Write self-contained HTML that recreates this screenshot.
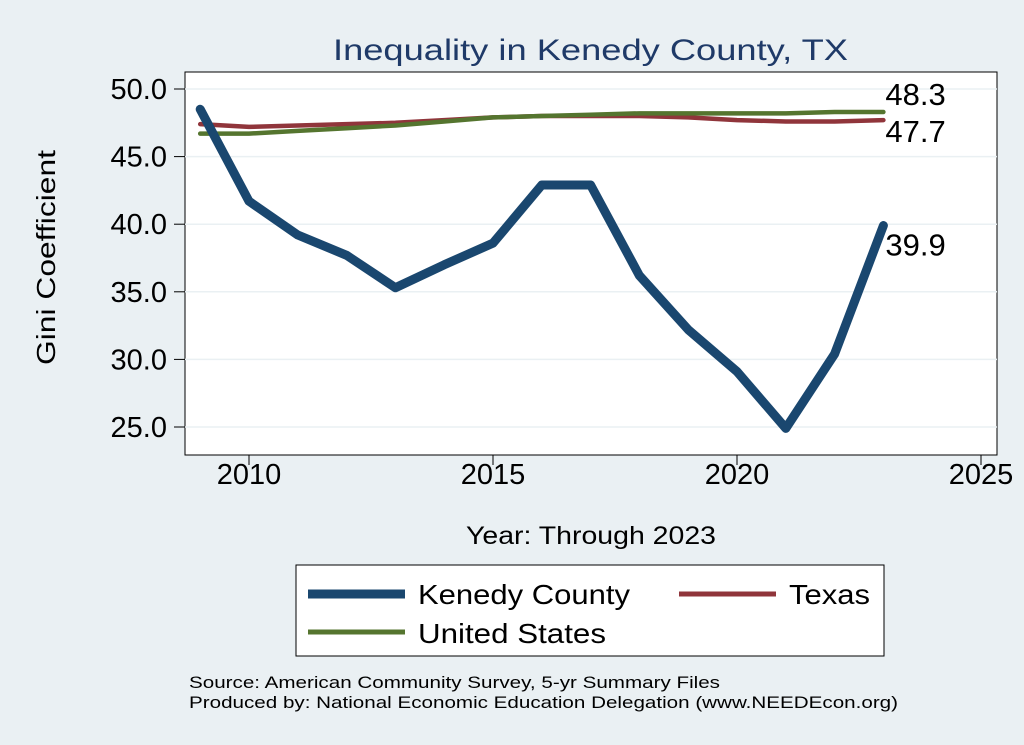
<!DOCTYPE html>
<html><head><meta charset="utf-8"><style>
body{margin:0;background:#eaf0f3;}
svg{display:block;font-family:"Liberation Sans",sans-serif;}
</style></head><body>
<svg width="1024" height="745">
<rect x="0" y="0" width="1024" height="745" fill="#eaf0f3"/>
<rect x="185" y="72" width="812" height="383" fill="#fff" stroke="#000" stroke-width="1"/>
<text x="333" y="60" font-size="30" fill="#1f3a68" textLength="515" lengthAdjust="spacingAndGlyphs">Inequality in Kenedy County, TX</text>
<text transform="translate(55,365) rotate(-90)" font-size="26" textLength="215" lengthAdjust="spacingAndGlyphs">Gini Coefficient</text>
<text x="466" y="544" font-size="25" textLength="250" lengthAdjust="spacingAndGlyphs">Year: Through 2023</text>
<g id="axes"></g>
<g id="series"></g>
<rect x="296" y="565" width="588" height="91" fill="#fff" stroke="#000" stroke-width="1"/>
<line x1="308" y1="594" x2="405" y2="594" stroke="#1a476f" stroke-width="9"/>
<text x="418" y="604" font-size="28" textLength="212" lengthAdjust="spacingAndGlyphs">Kenedy County</text>
<line x1="679" y1="594" x2="776" y2="594" stroke="#90353b" stroke-width="5"/>
<text x="789" y="604" font-size="28" textLength="81" lengthAdjust="spacingAndGlyphs">Texas</text>
<line x1="308" y1="632" x2="405" y2="632" stroke="#55752f" stroke-width="5"/>
<text x="418" y="643" font-size="28" textLength="188" lengthAdjust="spacingAndGlyphs">United States</text>
<text x="189" y="688" font-size="17" textLength="531" lengthAdjust="spacingAndGlyphs">Source: American Community Survey, 5-yr Summary Files</text>
<text x="189" y="708" font-size="17" textLength="709" lengthAdjust="spacingAndGlyphs">Produced by: National Economic Education Delegation (www.NEEDEcon.org)</text>
</svg>
<script>
const years=[2009,2010,2011,2012,2013,2014,2015,2016,2017,2018,2019,2020,2021,2022,2023];
const kenedy=[48.5,41.7,39.2,37.7,35.3,37.0,38.6,42.9,42.9,36.2,32.2,29.1,24.9,30.4,39.9];
const texas=[47.4,47.2,47.3,47.4,47.5,47.7,47.9,48.0,48.0,48.0,47.9,47.7,47.6,47.6,47.7];
const us=[46.7,46.7,46.9,47.1,47.3,47.6,47.9,48.0,48.1,48.2,48.2,48.2,48.2,48.3,48.3];
const xTicks=[2010,2015,2020,2025];
const yTicks=[25,30,35,40,45,50];
const NS="http://www.w3.org/2000/svg";
const xs=y=>249+(y-2010)*48.8;
const ys=v=>427-(v-25)*13.52;
const axes=document.getElementById('axes'), ser=document.getElementById('series');
function mk(tag,attrs,parent){const e=document.createElementNS(NS,tag);for(const k in attrs)e.setAttribute(k,attrs[k]);parent.appendChild(e);return e;}
yTicks.forEach(v=>{
 const g=mk('line',{x1:185,x2:997,y1:ys(v),y2:ys(v),stroke:'#eaf0f3','stroke-width':1.5},axes);
 
 
 const t=mk('line',{x1:174,x2:185,y1:ys(v),y2:ys(v),stroke:'#000'},axes);
 
 
 const l=mk('text',{x:167,y:ys(v)+10,'font-size':29,'text-anchor':'end'},axes);
 l.textContent=v.toFixed(1);
 
 
});
xTicks.forEach(v=>{
 const t=mk('line',{x1:xs(v),x2:xs(v),y1:455,y2:465,stroke:'#000'},axes);
 
 
 const l=mk('text',{x:xs(v),y:484,'font-size':29,'text-anchor':'middle'},axes);
 l.textContent=v;
 
 
});
function line(data,color,w,name){
 const p=mk('polyline',{points:data.map((v,i)=>xs(years[i])+','+ys(v)).join(' '),fill:'none',stroke:color,'stroke-width':w,'stroke-linejoin':'round','stroke-linecap':'round'},ser);
 
 
}
line(texas,'#90353b',4.5,'line-texas');
line(us,'#55752f',4.5,'line-us');
line(kenedy,'#1a476f',9,'line-kenedy');
function lab(v,dy,name){
 const l=mk('text',{x:xs(2023)+2,y:ys(v)+dy,'font-size':31},ser);
 l.textContent=v.toFixed(1);
 
 
}
lab(us[us.length-1],-7,'end-label-us');
lab(texas[texas.length-1],22,'end-label-texas');
lab(kenedy[kenedy.length-1],30,'end-label-kenedy');
</script>
</body></html>
